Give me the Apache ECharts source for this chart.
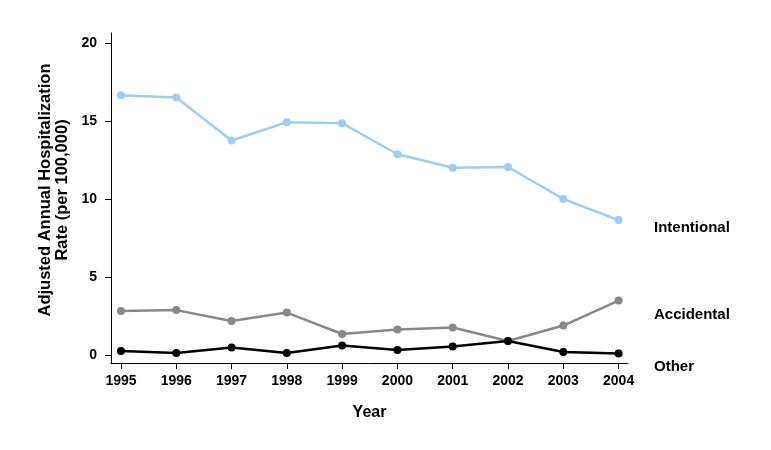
<!DOCTYPE html>
<html>
<head>
<meta charset="utf-8">
<script src="https://cdn.jsdelivr.net/npm/echarts@6/dist/echarts.min.js"></script>
<style>
  html, body { margin: 0; padding: 0; background: #fff; }
  #chart { width: 771px; height: 450px; }
</style>
</head>
<body>
<div id="chart"></div>
<script>
  const YEARS = [1995, 1996, 1997, 1998, 1999, 2000, 2001, 2002, 2003, 2004]
  const INTENTIONAL = [16.65, 16.5, 13.75, 14.92, 14.86, 12.87, 12.0, 12.05, 10.0, 8.65]
  const ACCIDENTAL = [2.82, 2.88, 2.18, 2.72, 1.35, 1.63, 1.76, 0.9, 1.89, 3.49]
  const OTHER = [0.26, 0.13, 0.48, 0.13, 0.61, 0.32, 0.54, 0.9, 0.19, 0.1]
  const Y_TICKS = [0, 5, 10, 15, 20]

  const font = '"Liberation Sans", Arial, sans-serif'
  const pair = (arr) => arr.map((v, i) => [YEARS[i], v])

  const mkSeries = (name, data, color, z) => ({
    name,
    type: 'line',
    data: pair(data),
    symbol: 'circle',
    symbolSize: 8,
    z,
    lineStyle: { color, width: 2.5 },
    itemStyle: { color },
    emphasis: { disabled: true }
  })

  const chart = echarts.init(document.getElementById('chart'))
  chart.setOption({
    backgroundColor: '#fff',
    animation: false,
    grid: { left: 111, right: 143, top: 33, bottom: 87 },
    xAxis: {
      type: 'value',
      min: 1994.82,
      max: 2004.17,
      splitLine: { show: false },
      axisLine: { onZero: false, lineStyle: { color: '#000', width: 1 } },
      axisTick: { customValues: YEARS, length: 6, lineStyle: { color: '#000' } },
      axisLabel: {
        customValues: YEARS,
        formatter: (v) => String(v),
        color: '#000',
        fontFamily: font,
        fontWeight: 'bold',
        fontSize: 14,
        margin: 11
      },
      name: 'Year',
      nameLocation: 'middle',
      nameGap: 42,
      nameTextStyle: { color: '#000', fontFamily: font, fontWeight: 'bold', fontSize: 16 }
    },
    yAxis: {
      type: 'value',
      min: -0.51,
      max: 20.64,
      splitLine: { show: false },
      axisLine: { show: true, onZero: false, lineStyle: { color: '#000', width: 1 } },
      axisTick: { show: true, customValues: Y_TICKS, length: 6, lineStyle: { color: '#000' } },
      axisLabel: {
        customValues: Y_TICKS,
        color: '#000',
        fontFamily: font,
        fontWeight: 'bold',
        fontSize: 14,
        margin: 14
      }
    },
    graphic: [
      {
        type: 'text',
        x: 54,
        y: 190,
        rotation: Math.PI / 2,
        style: {
          text: 'Adjusted Annual Hospitalization\nRate (per 100,000)',
          fill: '#000',
          font: 'bold 16.5px ' + font,
          align: 'center',
          verticalAlign: 'middle',
          lineHeight: 17
        }
      },
      { type: 'text', x: 654, y: 228, style: { text: 'Intentional', fill: '#000', font: 'bold 15px ' + font, verticalAlign: 'middle' } },
      { type: 'text', x: 654, y: 315, style: { text: 'Accidental', fill: '#000', font: 'bold 15px ' + font, verticalAlign: 'middle' } },
      { type: 'text', x: 654, y: 367, style: { text: 'Other', fill: '#000', font: 'bold 15px ' + font, verticalAlign: 'middle' } }
    ],
    series: [
      mkSeries('Intentional', INTENTIONAL, '#9dcdf5', 3),
      mkSeries('Accidental', ACCIDENTAL, '#888888', 2),
      mkSeries('Other', OTHER, '#000000', 4)
    ]
  })
</script>
</body>
</html>
